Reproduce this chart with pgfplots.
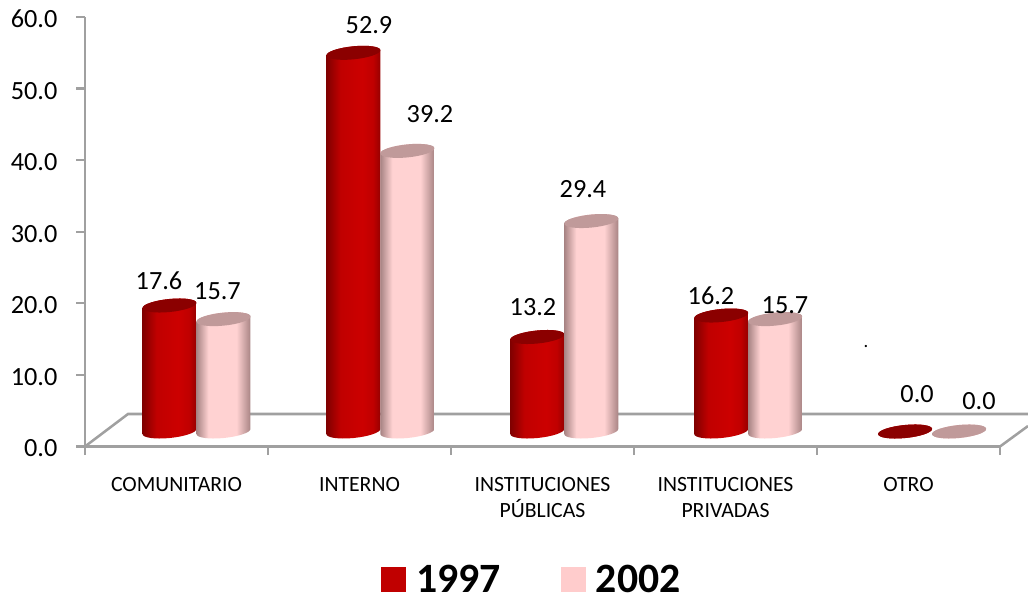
\documentclass[border=0pt]{standalone}
\usepackage{fontspec}
\setmainfont{Carlito}
\usepackage{pgfplots}
\usepackage{pgfplotstable}
\pgfplotsset{compat=1.18}
\definecolor{barred}{HTML}{C00000}
\definecolor{barpink}{HTML}{FFCCCC}
\definecolor{capred}{HTML}{8B0000}
\definecolor{cappink}{HTML}{C09A9A}
\definecolor{framegrey}{HTML}{A0A0A0}
\definecolor{rl}{HTML}{800000}
\definecolor{rm}{HTML}{CC0000}
\definecolor{rr}{HTML}{960000}
\definecolor{pl}{HTML}{A88484}
\definecolor{pm}{HTML}{FFD2D2}
\definecolor{pr}{HTML}{A88484}
\pgfdeclarehorizontalshading{redcyl}{100bp}{color(0bp)=(rl); color(25bp)=(rl); color(38bp)=(barred); color(58bp)=(rm); color(68bp)=(barred); color(75bp)=(rr); color(100bp)=(rr)}
\pgfdeclarehorizontalshading{pinkcyl}{100bp}{color(0bp)=(pl); color(25bp)=(pl); color(36bp)=(pm); color(62bp)=(pm); color(75bp)=(pr); color(100bp)=(pr)}
\newcommand\cylcap{%
  (-20.25pt,-1.924pt)
  .. controls (-20.25pt,0.782pt) and (-11.184pt,3.838pt) .. (0pt,4.9pt)
  .. controls (11.184pt,5.963pt) and (20.25pt,4.63pt) .. (20.25pt,1.924pt)
  .. controls (20.25pt,-0.782pt) and (11.184pt,-3.838pt) .. (0pt,-4.9pt)
  .. controls (-11.184pt,-5.963pt) and (-20.25pt,-4.63pt) .. (-20.25pt,-1.924pt) -- cycle}
\newcommand\cylmark[2]{%
  \pgfmathsetlengthmacro\cylh{\cylv*7.158*0.75pt}%
  \path[shading=#1,draw=none]
    (-20.25pt,-1.924pt) -- (-20.25pt,{-\cylh-1.924pt})
    .. controls (-20.25pt,{-\cylh-4.63pt}) and (-11.184pt,{-\cylh-5.963pt}) .. (0pt,{-\cylh-4.9pt})
    .. controls (11.184pt,{-\cylh-3.838pt}) and (20.25pt,{-\cylh-0.782pt}) .. (20.25pt,{-\cylh+1.924pt})
    -- (20.25pt,1.924pt)
    .. controls (20.25pt,4.63pt) and (11.184pt,5.963pt) .. (0pt,4.9pt)
    .. controls (-11.184pt,3.838pt) and (-20.25pt,0.782pt) .. (-20.25pt,-1.924pt) -- cycle;
  \path[fill=#2,draw=none] \cylcap;
}
\pgfdeclareplotmark{cylred}{\cylmark{redcyl}{capred}}
\pgfdeclareplotmark{cylpink}{\cylmark{pinkcyl}{cappink}}
\pgfplotstableread{
x v
0 17.6
1 52.9
2 13.2
3 16.2
4 0.0
}\datared
\pgfplotstableread{
x v
0 15.7
1 39.2
2 29.4
3 15.7
4 0.0
}\datapink
\pgfplotsset{
  cyl/.style={scatter,only marks,mark=#1,
    scatter/@pre marker code/.code={},scatter/@post marker code/.code={},
    visualization depends on={y \as \cylv}},
}
\newcommand\lab[4]{%
  \addplot[only marks,mark=none,draw=none,
    nodes near coords={\pgfmathprintnumber[fixed,fixed zerofill,precision=1,assume math mode=true]{\pgfplotspointmeta}},
    nodes near coords style={anchor=center,inner sep=0pt,text=black,
      font=\fontsize{19.7}{22}\selectfont,
      xshift=#3*0.75pt,yshift=#4*0.75pt}] coordinates {(#1,#2)};
}
\begin{document}
\begin{tikzpicture}
\useasboundingbox (0pt,0pt) rectangle (771pt,447pt);
% frame, ticks, category names, legend
\begin{axis}[
  at={(63.75pt,112.125pt)},anchor=south west,
  scale only axis,width=686.25pt,height=322.125pt,
  xmin=0,xmax=5,ymin=0,ymax=60,clip=false,
  axis x line*=bottom,axis y line*=left,
  x axis line style={draw=framegrey,line width=2pt,-},
  y axis line style={draw=framegrey,line width=2pt,-},
  tick style={draw=framegrey,line width=1.7pt},
  tick align=outside,major tick length=6.5pt,
  ytick={0,10,20,30,40,50,60},
  xtick={0,1,2,3,4,5},xticklabels={},
  extra x ticks={0.5,1.5,2.5,3.5,4.5},
  extra x tick labels={COMUNITARIO,INTERNO,{INSTITUCIONES\\PÚBLICAS},{INSTITUCIONES\\PRIVADAS},OTRO},
  extra x tick style={major tick length=0pt,
    tick label style={align=center,yshift=-20pt,font=\fontsize{16.3}{19.5}\selectfont}},
  yticklabel style={/pgf/number format/fixed,/pgf/number format/fixed zerofill,
    /pgf/number format/precision=1,/pgf/number format/assume math mode=true,
    font=\fontsize{19.7}{22}\selectfont,xshift=-10.7pt,yshift=-1.5pt},
  legend style={at={(axis description cs:0.4885,-0.3085)},anchor=center,
    draw=none,fill=none,inner sep=0pt,legend columns=2,
    font=\fontsize{31.3}{34}\selectfont\bfseries,
    nodes={text depth=0pt},
    /tikz/every odd column/.append style={column sep=6pt},
    /tikz/every even column/.append style={column sep=43pt}},
  legend image code/.code={\fill[#1] (0pt,-9pt) rectangle (18pt,9pt);},
]
\addplot[framegrey,line width=2pt,forget plot] coordinates {(0,60) (0,0) (5,0)};
\addplot[framegrey,line width=1.9pt,forget plot] coordinates {(0,0) (0.235,4.54) (5.153,4.54)};
\addplot[framegrey,line width=1.9pt,forget plot] coordinates {(5,0) (5.153,2.86)};
\addlegendimage{barred}\addlegendentry{1997}
\addlegendimage{barpink}\addlegendentry{2002}
\end{axis}
% cylinders and their values
\begin{axis}[
  at={(63.75pt,112.125pt)},anchor=south west,
  scale only axis,width=686.25pt,height=322.125pt,
  xmin=-0.6063,xmax=4.3692,ymin=-2.096,ymax=57.904,clip=false,hide axis,
]
\addplot[ybar,bar width=37.5pt,bar shift=-20.25pt,fill=barred,draw=none] table[x=x,y=v]{\datared};
\addplot[cyl=cylred] table[x expr=\coordindex-0.1468,y=v]{\datared};
\addplot[ybar,bar width=37.5pt,bar shift=20.25pt,fill=barpink,draw=none] table[x=x,y=v]{\datapink};
\addplot[cyl=cylpink] table[x expr=\coordindex+0.1468,y=v]{\datapink};
\lab{0}{17.6}{-37.5}{25}
\lab{1}{52.9}{-11.4}{27.8}
\lab{2}{13.2}{-31.3}{29.6}
\lab{3}{16.2}{-37.2}{20.2}
\lab{4}{0.0}{-15}{37}
\lab{0}{15.7}{21}{27.7}
\lab{1}{39.2}{49.6}{36.7}
\lab{2}{29.4}{18.7}{31.8}
\lab{3}{15.7}{36.8}{13.7}
\lab{4}{0.0}{46.9}{30}
\node[font=\fontsize{14}{14}\selectfont,inner sep=0pt] at (axis cs:3.64,11.9) {.};
\end{axis}
\end{tikzpicture}
\end{document}
